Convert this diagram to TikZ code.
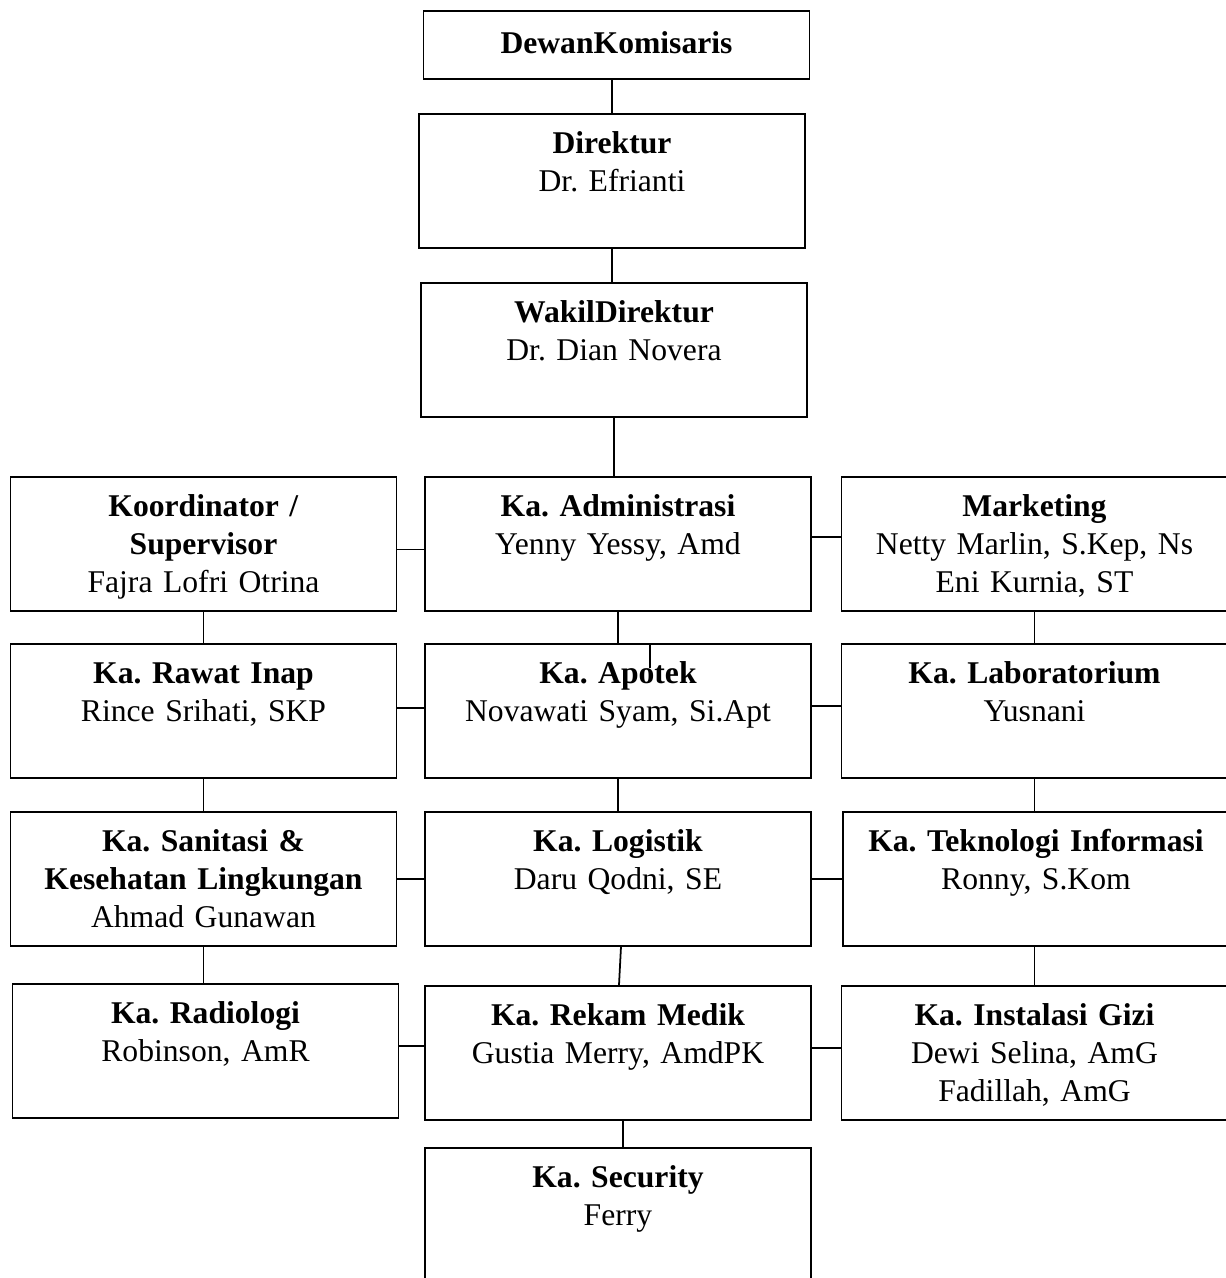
\documentclass[tikz,border=0pt]{standalone}
\usepackage{fontspec}
\setmainfont{Liberation Serif}
\usepackage{tikz}
\frenchspacing

\begin{document}
\begin{tikzpicture}[line width=1pt,
                    font=\fontsize{18}{21.6}\selectfont]
  \tikzstyle{unit}=[draw=black,fill=white,anchor=north,text width=7.5cm,align=center,
                    inner xsep=0.11cm,inner ysep=0pt,text height=0.8cm,text depth=1.88cm]
  \tikzstyle{topunit}=[unit,text height=0.86cm,text depth=0.5cm]

  \useasboundingbox (0,0) rectangle (24.52,-25.56);

  \node[topunit] (dk)    at (12.33,-0.2)   {\textbf{DewanKomisaris}};
  \node[unit]    (dir)   at (12.24,-2.26)  {\textbf{Direktur}\\Dr. Efrianti};
  \node[unit]    (wdir)  at (12.28,-5.64)  {\textbf{WakilDirektur}\\Dr. Dian Novera};

  \node[unit]    (koor)  at (4.07,-9.52)   {\textbf{Koordinator /}\\\textbf{Supervisor}\\Fajra Lofri Otrina};
  \node[unit]    (adm)   at (12.36,-9.52)  {\textbf{Ka. Administrasi}\\Yenny Yessy, Amd};
  \node[unit]    (mkt)   at (20.69,-9.52)  {\textbf{Marketing}\\Netty Marlin, S.Kep, Ns\\Eni Kurnia, ST};

  \node[unit]    (rawat) at (4.07,-12.86)  {\textbf{Ka. Rawat Inap}\\Rince Srihati, SKP};
  \node[unit]    (apt)   at (12.36,-12.86) {\textbf{Ka. Apotek}\\Novawati Syam, Si.Apt};
  \node[unit]    (lab)   at (20.69,-12.86) {\textbf{Ka. Laboratorium}\\Yusnani};

  \node[unit]    (san)   at (4.07,-16.22)  {\textbf{Ka. Sanitasi \&}\\\textbf{Kesehatan Lingkungan}\\Ahmad Gunawan};
  \node[unit]    (log)   at (12.36,-16.22) {\textbf{Ka. Logistik}\\Daru Qodni, SE};
  \node[unit]    (ti)    at (20.72,-16.22) {\textbf{Ka. Teknologi Informasi}\\Ronny, S.Kom};

  \node[unit]    (rad)   at (4.11,-19.66)  {\textbf{Ka. Radiologi}\\Robinson, AmR};
  \node[unit]    (rm)    at (12.36,-19.70) {\textbf{Ka. Rekam Medik}\\Gustia Merry, AmdPK};
  \node[unit]    (gizi)  at (20.69,-19.70) {\textbf{Ka. Instalasi Gizi}\\Dewi Selina, AmG\\Fadillah, AmG};

  \node[unit]    (sec)   at (12.36,-22.94) {\textbf{Ka. Security}\\Ferry};

  % middle column
  \draw (dir.north) -- (dir.north |- dk.south);
  \draw (dir.south) -- (dir.south |- wdir.north);
  \draw (wdir.south) -- (wdir.south |- adm.north);
  \draw (adm) -- (apt);
  \draw ([xshift=0.64cm]apt.north) -- ++(0,-0.5);
  \draw (apt) -- (log);
  \draw ([xshift=0.06cm]log.south) -- ([xshift=0.02cm]rm.north);
  \draw ([xshift=0.1cm]rm.south) -- ([xshift=0.1cm]sec.north);

  % side columns
  \draw (koor) -- (rawat);
  \draw (rawat) -- (san);
  \draw (san.south) -- (san.south |- rad.north);
  \draw (mkt) -- (lab);
  \draw (lab.south) -- (lab.south |- ti.north);
  \draw (gizi.north) -- (gizi.north |- ti.south);

  % rows
  \draw ([yshift=-0.11cm]koor.east) -- ([yshift=-0.11cm]adm.west);
  \draw ([yshift=0.14cm]adm.east) -- ([yshift=0.14cm]mkt.west);
  \draw ([yshift=0.06cm]rawat.east) -- ([yshift=0.06cm]apt.west);
  \draw ([yshift=0.1cm]apt.east) -- ([yshift=0.1cm]lab.west);
  \draw (san) -- (log);
  \draw (log) -- (ti);
  \draw ([yshift=0.1cm]rad.east) -- ([yshift=0.1cm]rad.east -| rm.west);
  \draw ([yshift=0.1cm]rm.east) -- ([yshift=0.1cm]gizi.west);
\end{tikzpicture}
\end{document}
